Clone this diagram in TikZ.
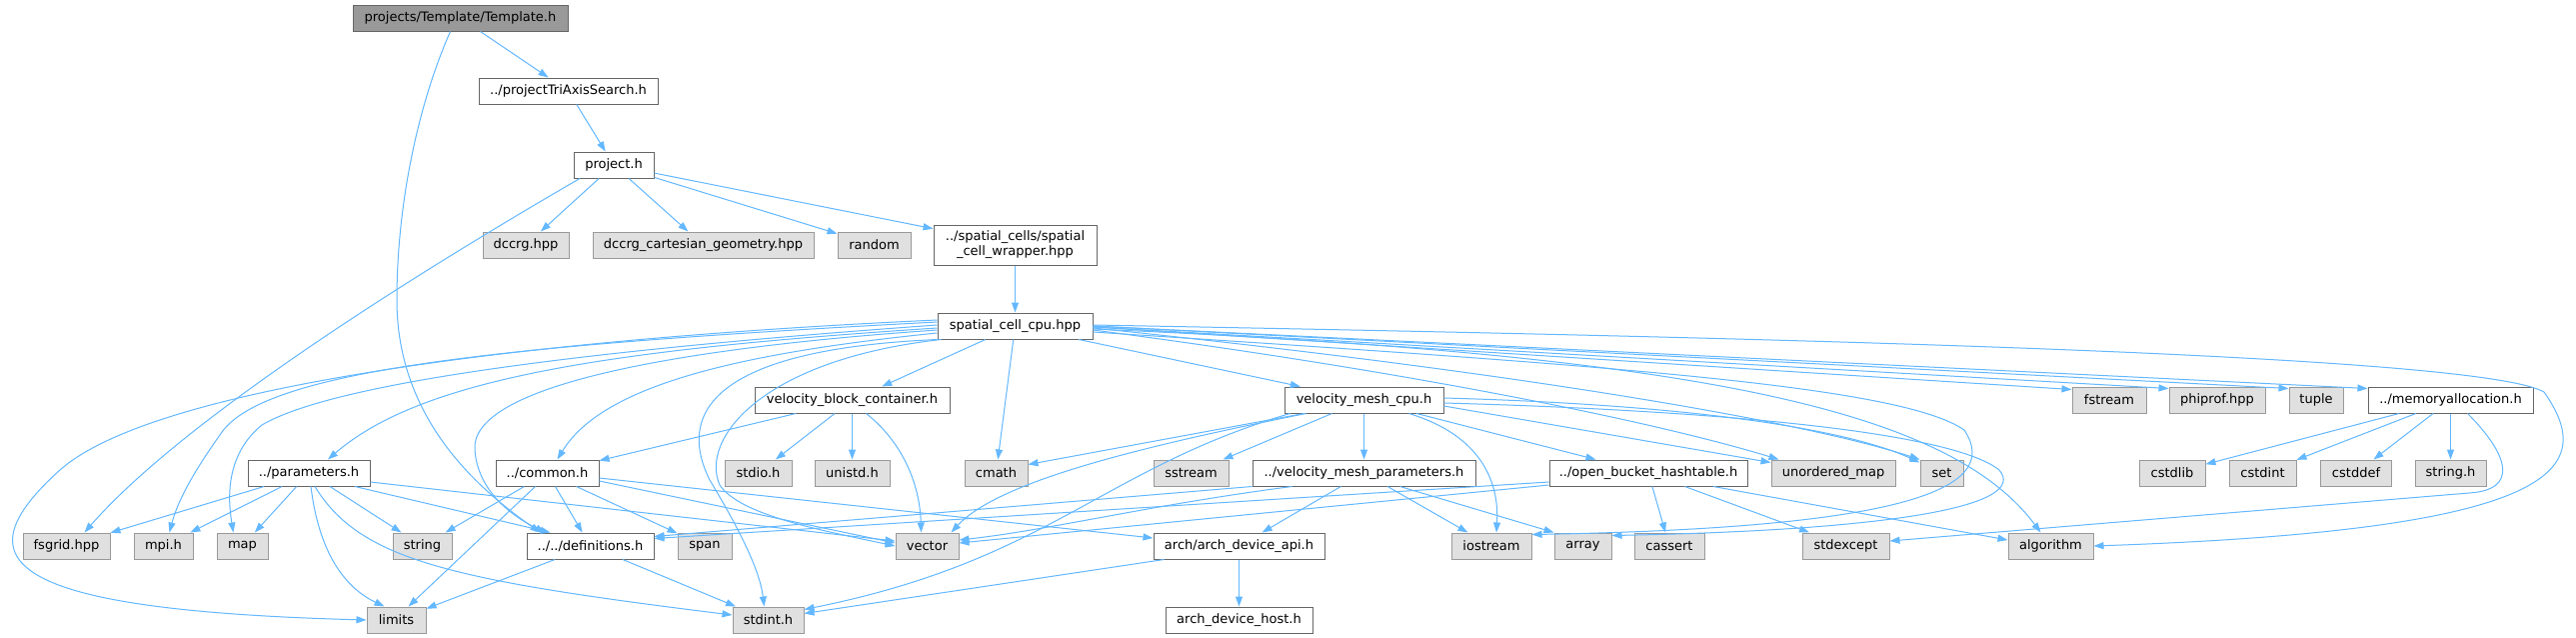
\documentclass[tikz,border=0pt]{standalone}
\usepackage{fontspec}
\setmainfont{DejaVu Sans}
\usetikzlibrary{arrows.meta}
\definecolor{edgeblue}{HTML}{63B8FF}
\definecolor{darkframe}{HTML}{666666}
\definecolor{lightframe}{HTML}{999999}
\definecolor{sysfill}{HTML}{E0E0E0}
\definecolor{rootfill}{HTML}{999999}
\tikzset{
  file/.style={draw=darkframe, fill=white, line width=1pt, inner sep=0pt,
    minimum height=26pt, font=\fontsize{13}{15}\selectfont},
  sysfile/.style={file, draw=lightframe, fill=sysfill},
  rootfile/.style={file, fill=rootfill},
  dep/.style={draw=edgeblue, line width=1pt, -{Triangle[length=10pt,width=7pt]}}
}

\begin{document}
\begin{tikzpicture}[x=1pt,y=-1pt]
  %%%%% START %%%%%
  \def\yA{18}
  \def\yB{91}
  \def\yC{165}
  \def\yD{245}
  \def\yE{326}
  \def\yF{400}
  \def\yG{473}
  \def\yH{546}
  \def\yI{620}
  \useasboundingbox[fill=white] (0,0) rectangle (2577,637);

  \node[rootfile, minimum width=215pt] (tmpl) at (460.5,\yA) {projects/Template/Template.h};
  \node[file, minimum width=179pt] (pta) at (568.5,\yB) {../projectTriAxisSearch.h};
  \node[file, minimum width=80pt] (prj) at (614,\yC) {project.h};

  \node[sysfile, minimum width=86pt] (dccrg) at (526,\yD) {dccrg.hpp};
  \node[sysfile, minimum width=221pt] (dccrgcart) at (703.5,\yD) {dccrg\_cartesian\_geometry.hpp};
  \node[sysfile, minimum width=73pt] (random) at (874.5,\yD) {random};
  \node[file, minimum width=163pt, minimum height=40pt, align=center] (wrapper) at (1015.5,\yD)
    {../spatial\_cells/spatial\\\_cell\_wrapper.hpp};

  \node[file, minimum width=155pt] (sc) at (1015.5,\yE) {spatial\_cell\_cpu.hpp};

  \node[file, minimum width=195pt] (vbc) at (852.5,\yF) {velocity\_block\_container.h};
  \node[file, minimum width=159pt] (vmc) at (1364.5,\yF) {velocity\_mesh\_cpu.h};
  \node[sysfile, minimum width=74pt] (fstream) at (2110,\yF) {fstream};
  \node[sysfile, minimum width=96pt] (phiprof) at (2218,\yF) {phiprof.hpp};
  \node[sysfile, minimum width=54pt] (tuple) at (2317,\yF) {tuple};
  \node[file, minimum width=165pt] (memalloc) at (2451.5,\yF) {../memoryallocation.h};

  \node[file, minimum width=122pt] (param) at (309,\yG) {../parameters.h};
  \node[file, minimum width=103pt] (common) at (547.5,\yG) {../common.h};
  \node[sysfile, minimum width=67pt] (stdio) at (758.5,\yG) {stdio.h};
  \node[sysfile, minimum width=75pt] (unistd) at (852.5,\yG) {unistd.h};
  \node[sysfile, minimum width=63pt] (cmath) at (996.5,\yG) {cmath};
  \node[sysfile, minimum width=75pt] (sstream) at (1191.5,\yG) {sstream};
  \node[file, minimum width=223pt] (vmp) at (1364.5,\yG) {../velocity\_mesh\_parameters.h};
  \node[file, minimum width=198pt] (obh) at (1649,\yG) {../open\_bucket\_hashtable.h};
  \node[sysfile, minimum width=124pt] (umap) at (1834,\yG) {unordered\_map};
  \node[sysfile, minimum width=43pt] (set) at (1942.5,\yG) {set};
  \node[sysfile, minimum width=66pt] (cstdlib) at (2173,\yG) {cstdlib};
  \node[sysfile, minimum width=67pt] (cstdint) at (2263.5,\yG) {cstdint};
  \node[sysfile, minimum width=71pt] (cstddef) at (2357,\yG) {cstddef};
  \node[sysfile, minimum width=71pt] (stringh) at (2451.5,\yG) {string.h};

  \node[sysfile, minimum width=87pt] (fsgrid) at (66.5,\yH) {fsgrid.hpp};
  \node[sysfile, minimum width=59pt] (mpi) at (163.5,\yH) {mpi.h};
  \node[sysfile, minimum width=51pt] (map) at (242.5,\yH) {map};
  \node[sysfile, minimum width=59pt] (string) at (422.5,\yH) {string};
  \node[file, minimum width=127pt] (defs) at (590.5,\yH) {../../definitions.h};
  \node[sysfile, minimum width=54pt] (span) at (705,\yH) {span};
  \node[sysfile, minimum width=63pt] (vector) at (927.5,\yH) {vector};
  \node[file, minimum width=171pt] (archapi) at (1239.5,\yH) {arch/arch\_device\_api.h};
  \node[sysfile, minimum width=80pt] (iostream) at (1492,\yH) {iostream};
  \node[sysfile, minimum width=57pt] (array) at (1583.5,\yH) {array};
  \node[sysfile, minimum width=70pt] (cassert) at (1670,\yH) {cassert};
  \node[sysfile, minimum width=87pt] (stdexcept) at (1846.5,\yH) {stdexcept};
  \node[sysfile, minimum width=85pt] (algorithm) at (2051.5,\yH) {algorithm};

  \node[sysfile, minimum width=59pt] (limits) at (396.5,\yI) {limits};
  \node[sysfile, minimum width=71pt] (stdint) at (768.5,\yI) {stdint.h};
  \node[file, minimum width=147pt] (archhost) at (1239.5,\yI) {arch\_device\_host.h};

  % top part
  \draw[dep] (tmpl) -- (pta);
  \draw[dep] ([xshift=-10pt]tmpl.south) .. controls (420,100) and (397,200) .. (397,300)
    .. controls (397,420) and (480,490) .. ([xshift=-50pt]defs.north);
  \draw[dep] (pta) -- (prj);
  \draw[dep] ([xshift=-34pt]prj.south) .. controls (500,225) and (200,400) .. ([xshift=18pt]fsgrid.north);
  \draw[dep] (prj) -- (dccrg);
  \draw[dep] (prj) -- (dccrgcart);
  \draw[dep] (prj) -- (random);
  \draw[dep] (prj) -- (wrapper);
  \draw[dep] (wrapper) -- (sc);

  % spatial_cell_cpu.hpp
  \draw[dep] (sc) -- (vbc);
  \draw[dep] (sc) -- (cmath);
  \draw[dep] (sc) -- (vmc);
  \draw[dep] ([yshift=-1pt]sc.east) -- ([yshift=-3pt]fstream.north west);
  \draw[dep] ([yshift=-1pt]sc.east) -- ([yshift=-2pt]phiprof.north west);
  \draw[dep] (sc.east) -- ([yshift=-2pt]tuple.north west);
  \draw[dep] (sc.east) -- ([yshift=-2pt]memalloc.north west);
  \draw[dep] ([yshift=1pt]sc.east) .. controls (1800,338) and (2480,355) .. (2545,392)
    .. controls (2600,470) and (2560,530) .. (algorithm.east);
  \draw[dep] ([yshift=-3pt]sc.east) .. controls (1700,355) and (1950,410) .. ([xshift=-10pt]algorithm.north);
  \draw[dep] ([yshift=-4pt]sc.east) .. controls (1400,370) and (1650,420) .. ([xshift=8pt]umap.north west);
  \draw[dep] ([yshift=-2pt]sc.east) .. controls (1500,370) and (1800,420) .. (set.north west);
  \draw[dep] ([yshift=-6pt]sc.east) .. controls (1600,365) and (1900,385) .. (1965,430)
    .. controls (2005,490) and (1900,528) .. ([yshift=-2pt]iostream.north east);
  \draw[dep] ([yshift=6pt]sc.west) .. controls (500,340) and (150,390) .. (60,470)
    .. controls (-40,560) and (0,610) .. (limits.west);
  \draw[dep] ([yshift=4pt]sc.west) .. controls (500,345) and (260,370) .. (220,435)
    .. controls (195,470) and (178,500) .. ([xshift=6pt]mpi.north);
  \draw[dep] ([yshift=1pt]sc.west) .. controls (560,352) and (330,385) .. (262,425)
    .. controls (225,455) and (228,500) .. ([xshift=-9pt]map.north);
  \draw[dep] ([yshift=-2pt]sc.west) .. controls (600,350) and (420,380) .. ([xshift=19pt]param.north);
  \draw[dep] ([yshift=-7pt]sc.west) .. controls (720,355) and (600,390) .. ([xshift=10pt]common.north);
  \draw[dep] ([yshift=-4pt]sc.west) .. controls (650,350) and (470,390) .. (475,450)
    .. controls (478,490) and (510,515) .. ([xshift=-45pt]defs.north);
  \draw[dep] (sc.south west) .. controls (700,350) and (680,420) .. (710,480)
    .. controls (740,530) and (760,570) .. ([xshift=-4pt]stdint.north);
  \draw[dep] ([xshift=4pt]sc.south west) .. controls (760,360) and (700,440) .. (720,485)
    .. controls (740,515) and (820,530) .. (vector.west);

  % velocity_block_container.h
  \draw[dep] (vbc) -- (common);
  \draw[dep] (vbc) -- (stdio);
  \draw[dep] (vbc) -- (unistd);
  \draw[dep] ([xshift=14pt]vbc.south) .. controls (900,440) and (920,480) .. ([xshift=-6pt]vector.north);

  % velocity_mesh_cpu.h
  \draw[dep] ([yshift=-6pt]vmc.east) -- ([yshift=-3pt]umap.north west);
  \draw[dep] ([yshift=2pt]vmc.east) .. controls (1700,405) and (1850,430) .. ([yshift=-3pt]set.north west);
  \draw[dep] ([yshift=-3pt]vmc.east) .. controls (1700,410) and (1950,430) .. (2000,470)
    .. controls (2030,505) and (1900,530) .. ([yshift=-3pt]array.north east);
  \draw[dep] (vmc) -- (obh);
  \draw[dep] (vmc) -- (vmp);
  \draw[dep] ([xshift=45pt]vmc.south) .. controls (1480,435) and (1500,480) .. ([xshift=5pt]iostream.north);
  \draw[dep] (vmc) -- (sstream);
  \draw[dep] ([xshift=-60pt]vmc.south) -- ([yshift=-5pt]cmath.north east);
  \draw[dep] ([xshift=-58pt]vmc.south) .. controls (1150,445) and (1000,480) .. ([xshift=24pt]vector.north);
  \draw[dep] ([xshift=-74pt]vmc.south) .. controls (1100,470) and (1050,560) .. ([yshift=-3pt]stdint.north east);

  % ../parameters.h
  \draw[dep] (param) -- (fsgrid);
  \draw[dep] (param) -- (mpi);
  \draw[dep] (param) -- (map);
  \draw[dep] ([xshift=2pt]param.south) .. controls (320,560) and (350,590) .. ([xshift=-12pt]limits.north);
  \draw[dep] ([xshift=6pt]param.south) .. controls (360,560) and (450,580) .. ([yshift=5pt]stdint.west);
  \draw[dep] (param) -- (string);
  \draw[dep] ([xshift=46pt]param.south) -- ([xshift=-40pt]defs.north);
  \draw[dep] ([yshift=-9pt]param.east) -- ([yshift=5pt]vector.west);

  % ../common.h
  \draw[dep] (common) -- (string);
  \draw[dep] ([xshift=-12pt]common.south) -- ([xshift=12pt]limits.north);
  \draw[dep] (common) -- (defs);
  \draw[dep] (common) -- (span);
  \draw[dep] ([yshift=-8pt]common.east) -- ([yshift=3pt]vector.west);
  \draw[dep] ([yshift=-5pt]common.east) -- ([yshift=8pt]archapi.west);

  % ../../definitions.h
  \draw[dep] (defs) -- (limits);
  \draw[dep] (defs) -- (stdint);

  % ../velocity_mesh_parameters.h
  \draw[dep] (vmp.south west) -- ([yshift=-4pt]defs.north east);
  \draw[dep] ([xshift=-72pt]vmp.south) .. controls (1150,505) and (1050,530) .. ([yshift=6pt]vector.east);
  \draw[dep] (vmp) -- (archapi);
  \draw[dep] (vmp) -- (iostream);
  \draw[dep] ([xshift=36pt]vmp.south) -- (array.north west);

  % ../open_bucket_hashtable.h
  \draw[dep] ([yshift=-9pt]obh.west) -- ([yshift=-6pt]defs.north east);
  \draw[dep] ([yshift=-12pt]obh.west) -- ([yshift=3pt]vector.east);
  \draw[dep] (obh) -- (cassert);
  \draw[dep] (obh) -- (stdexcept);
  \draw[dep] ([xshift=65pt]obh.south) -- ([yshift=6pt]algorithm.west);

  % arch/arch_device_api.h
  \draw[dep] (archapi) -- (archhost);
  \draw[dep] ([xshift=-75pt]archapi.south) -- ([yshift=-7pt]stdint.north east);

  % ../memoryallocation.h
  \draw[dep] (memalloc) -- (cstdlib);
  \draw[dep] (memalloc) -- (cstdint);
  \draw[dep] (memalloc) -- (cstddef);
  \draw[dep] (memalloc) -- (stringh);
  \draw[dep] ([xshift=17pt]memalloc.south) .. controls (2510,455) and (2520,490) .. (2470,493)
    -- ([yshift=5pt]stdexcept.east);
  %%%%% END %%%%%
\end{tikzpicture}
\end{document}
